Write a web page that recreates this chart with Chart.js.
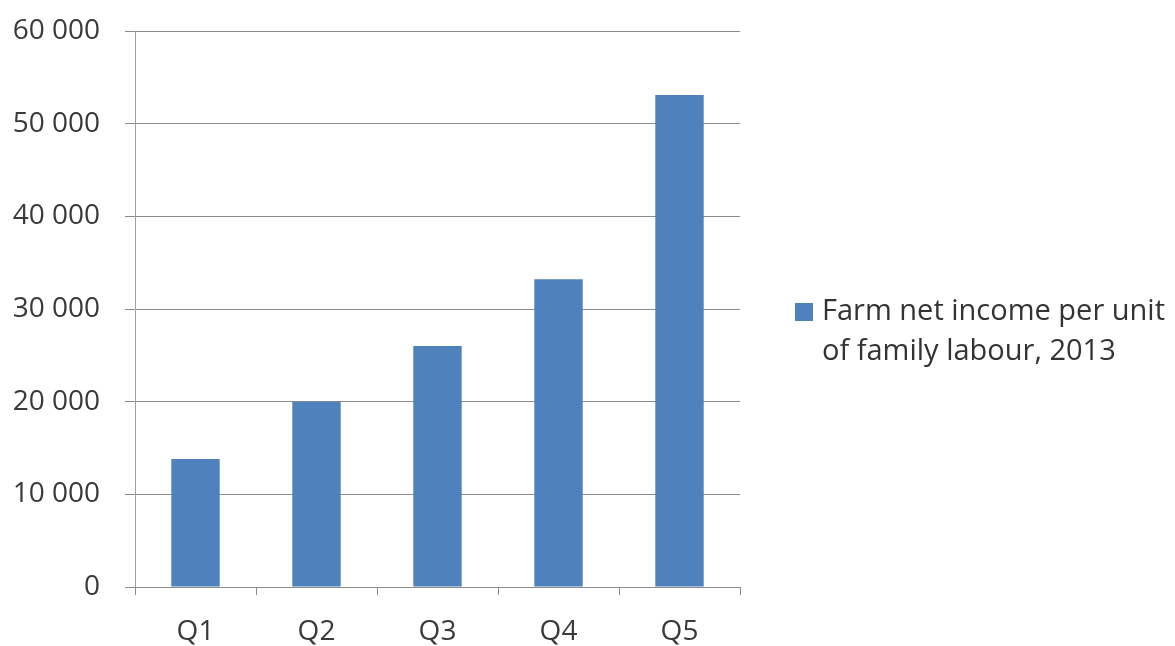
<!DOCTYPE html>
<html>
<head>
<meta charset="utf-8">
<script src="https://cdn.jsdelivr.net/npm/chart.js@4/dist/chart.umd.min.js"></script>
<style>
html, body { margin: 0; padding: 0; background: #fff; }
#wrap { position: relative; width: 1175px; height: 646px; }
#legend { position: absolute; left: 795px; top: 289px; width: 380px;
  font-family: 'Open Sans', sans-serif; font-size: 29px; line-height: 40px; color: #333; }
#legend .box { position: absolute; left: 0; top: 14px; width: 18px; height: 18px; background: #4F81BD; }
#legend .txt { margin-left: 27px; width: 350px; }
</style>
</head>
<body>
<div id="wrap">
  <canvas id="ex_chart" width="1175" height="646"></canvas>
  <div id="legend"></div>
</div>
<script>
// data
const categories = ['Q1', 'Q2', 'Q3', 'Q4', 'Q5'];
const incomeValues = [13800, 20000, 26000, 33200, 53100];
const seriesLabel = 'Farm net income per unit of family labour, 2013';
const yTicks = [0, 10000, 20000, 30000, 40000, 50000, 60000];

const barColor = '#4F81BD';
const textColor = '#3a3a3a';
const gridColor = '#8c8c8c';

window.addEventListener('load', function () {
    const ctx = document.getElementById('ex_chart');

    const data = {
        labels: categories,
        datasets: [{
            label: seriesLabel,
            data: incomeValues,
            backgroundColor: barColor,
            borderWidth: 0,
            barPercentage: 0.4,
            categoryPercentage: 1.0
        }]
    };

    const options = {
        responsive: false,
        animation: false,
        layout: { padding: { top: 31, right: 435, bottom: 0, left: 0 } },
        plugins: {
            legend: { display: false },
            tooltip: { enabled: false }
        },
        scales: {
            y: {
                min: yTicks[0],
                max: yTicks[yTicks.length - 1],
                ticks: {
                    stepSize: yTicks[1] - yTicks[0],
                    color: textColor,
                    font: { family: 'Open Sans', size: 28 },
                    padding: 25,
                    callback: v => v.toLocaleString('en-US').replace(/,/g, ' ')
                },
                grid: { color: gridColor, tickLength: 10, lineWidth: 1 },
                border: { color: '#a0a0a0' },
                // fixed width, and drop the extra top padding that ticks.padding adds
                afterFit: s => { s.width = 135; s.paddingTop = 0; s.paddingBottom = 0; }
            },
            x: {
                ticks: {
                    color: textColor,
                    font: { family: 'Open Sans', size: 28 },
                    padding: 20
                },
                grid: { drawOnChartArea: false, tickLength: 8, color: gridColor, offset: true },
                border: { color: gridColor },
                afterFit: s => { s.height = 59; }
            }
        }
    };

    new Chart(ctx, { type: 'bar', data: data, options: options });

    // legend as html so the label can wrap onto two lines
    const legend = document.getElementById('legend');
    legend.innerHTML = '<span class="box"></span><div class="txt"></div>';
    legend.querySelector('.txt').textContent = seriesLabel;
});
</script>
</body>
</html>
